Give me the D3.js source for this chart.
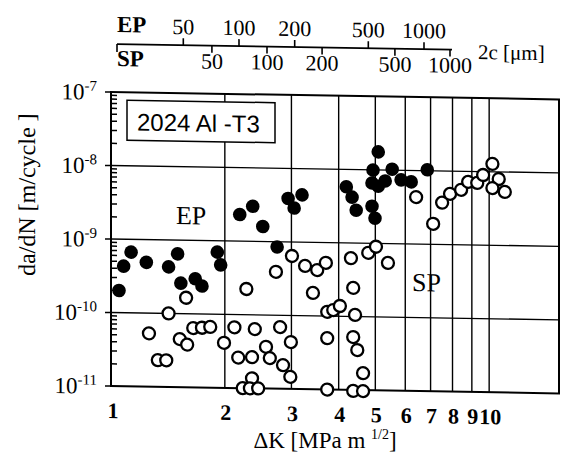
<!DOCTYPE html>
<html>
<head>
<meta charset="utf-8">
<script src="https://cdn.jsdelivr.net/npm/d3@7"></script>
<style>
  body { margin: 0; background: #fff; }
  svg text { font-family: "Liberation Serif", "Times New Roman", serif; fill: #000; }
</style>
</head>
<body>
<div id="chart"></div>
<script>
// EP specimens (filled circles): delta K [MPa m^1/2] and da/dN [m/cycle]
var epK = [1.05, 1.08, 1.13, 1.24, 1.42, 1.50, 1.53, 1.67, 1.74, 1.91, 1.95, 2.19, 2.37, 2.52, 2.75,
  2.94, 3.20, 3.05, 4.19, 4.34, 4.45, 4.90, 4.99, 5.09, 4.93, 4.90, 5.09, 5.31, 5.54, 5.85, 6.22, 6.86];
var epRate = [2.0e-10, 4.3e-10, 6.7e-10, 4.9e-10, 4.3e-10, 6.5e-10, 2.6e-10, 3.0e-10, 2.4e-10, 7.0e-10,
  4.7e-10, 2.3e-9, 3.0e-9, 1.6e-9, 8.5e-10, 3.9e-9, 4.4e-9, 2.9e-9, 5.8e-9, 4.2e-9, 2.8e-9, 3.2e-9,
  2.2e-9, 1.76e-8, 9.9e-9, 6.6e-9, 6.0e-9, 7.1e-9, 1.03e-8, 7.4e-9, 7.0e-9, 1.03e-8];

// SP specimens (open circles)
var spK = [1.26, 1.33, 1.40, 1.42, 1.52, 1.59, 1.58, 1.65, 1.74, 1.83, 1.99, 2.12, 2.17, 2.36, 2.36,
  2.23, 2.33, 2.45, 2.40, 2.57, 2.63, 2.80, 2.85, 2.98, 2.99, 2.28, 2.73, 3.01, 3.26, 3.51, 3.70,
  3.42, 4.31, 4.79, 5.02, 5.40, 4.37, 3.73, 3.87, 4.03, 4.42, 3.73, 4.37, 4.48, 4.64, 3.73, 4.37,
  4.64, 6.41, 7.11, 7.51, 7.88, 8.43, 8.80, 9.30, 9.64, 10.2, 10.6, 10.2, 11.0];
var spRate = [5.3e-11, 2.3e-11, 2.3e-11, 1.0e-10, 4.5e-11, 3.8e-11, 1.65e-10, 6.4e-11, 6.5e-11, 6.7e-11,
  4.1e-11, 6.7e-11, 2.6e-11, 2.65e-11, 1.37e-11, 1.0e-11, 1.0e-11, 1.0e-11, 6.4e-11, 3.7e-11, 2.6e-11,
  6.9e-11, 2.1e-11, 1.46e-11, 4.35e-11, 2.24e-10, 3.9e-10, 6.45e-10, 4.75e-10, 4.2e-10, 5.3e-10,
  2.05e-10, 6.2e-10, 7.4e-10, 9.0e-10, 5.45e-10, 2.45e-10, 1.14e-10, 1.21e-10, 1.38e-10, 1.05e-10,
  5.0e-11, 5.25e-11, 3.5e-11, 1.7e-11, 1.0e-11, 0.97e-11, 0.97e-11, 4.35e-9, 1.9e-9, 3.7e-9, 4.9e-9,
  5.6e-9, 7.2e-9, 7.0e-9, 9.0e-9, 1.28e-8, 8.0e-9, 6.0e-9, 5.35e-9];

// ticks
var xTicks = [1, 2, 3, 4, 5, 6, 7, 8, 9, 10];
var yExp = [-7, -8, -9, -10, -11];
var epSizes = [50, 100, 200, 500, 1000];
var spSizes = [50, 100, 200, 500, 1000];

var W = 563, H = 454;
var svg = d3.select("#chart").append("svg").attr("width", W).attr("height", H);

// the scan is slightly skewed
var k = 0.0165;
var g = svg.append("g").attr("transform", "matrix(1," + k + ",0,1,0," + (-k * 111) + ")");

var x = d3.scaleLog().domain([1, 15.3]).range([111, 559]);
var y = d3.scaleLog().domain([1e-11, 1e-7]).range([386, 92]);
var epScale = d3.scaleLog().domain([100, 1000]).range([239, 424]);
var spScale = d3.scaleLog().domain([100, 1000]).range([267, 450]);

// grid
g.append("g").selectAll("line").data(xTicks.slice(1)).enter().append("line")
  .attr("x1", function(d) { return x(d); }).attr("x2", function(d) { return x(d); })
  .attr("y1", y(1e-7)).attr("y2", y(1e-11))
  .attr("stroke", "#000").attr("stroke-width", 1.4);
g.append("g").selectAll("line").data(yExp.slice(1, 4)).enter().append("line")
  .attr("x1", x(1)).attr("x2", x.range()[1])
  .attr("y1", function(d) { return y(Math.pow(10, d)); }).attr("y2", function(d) { return y(Math.pow(10, d)); })
  .attr("stroke", "#000").attr("stroke-width", 1.4);

// minor ticks on left axis (inside), decade ticks outside
function mant(d) { return Math.round(d / Math.pow(10, Math.floor(Math.log10(d) + 1e-9))); }
g.append("g").selectAll("line").data(y.ticks()).enter().append("line")
  .attr("x1", function(d) { return mant(d) === 1 ? x(1) - 6 : x(1); })
  .attr("x2", function(d) { return mant(d) === 1 ? x(1) : x(1) + 6; })
  .attr("y1", function(d) { return y(d); }).attr("y2", function(d) { return y(d); })
  .attr("stroke", "#000").attr("stroke-width", 1.5);

// frame
g.append("rect").attr("x", x(1)).attr("y", y(1e-7))
  .attr("width", x.range()[1] - x(1)).attr("height", y(1e-11) - y(1e-7))
  .attr("fill", "none").attr("stroke", "#000").attr("stroke-width", 2);

// y labels
var yl = g.append("g").selectAll("text").data(yExp).enter().append("text")
  .attr("x", 97).attr("y", function(d) { return y(Math.pow(10, d)) + 8; })
  .attr("text-anchor", "end").style("font-size", "23px");
yl.append("tspan").text("10");
yl.append("tspan").attr("dy", -9).style("font-size", "15px").text(function(d) { return d; });

// x labels
g.append("g").selectAll("text").data(xTicks).enter().append("text")
  .attr("x", function(d) { return x(d) + (d === 1 ? 2 : 1); }).attr("y", 418)
  .attr("text-anchor", "middle").style("font-size", "22px").style("font-weight", "bold")
  .text(function(d) { return d; });

// axis titles (x title kept unskewed so it stays inside the page)
var xt = svg.append("text").attr("x", 325).attr("y", 448).attr("text-anchor", "middle").style("font-size", "23px");
xt.append("tspan").text("\u0394K [MPa m ");
xt.append("tspan").attr("dy", -9).style("font-size", "14px").text("1/2");
xt.append("tspan").attr("dy", 9).text("]");

g.append("text").attr("transform", "translate(35,196) rotate(-90)")
  .attr("text-anchor", "middle").style("font-size", "24px").text("da/dN [m/cycle ]");

// legend box
g.append("rect").attr("x", 127).attr("y", 100).attr("width", 148).attr("height", 40)
  .attr("fill", "#fff").attr("stroke", "#000").attr("stroke-width", 1.5);
g.append("text").attr("x", 137).attr("y", 130)
  .style("font-family", "'Liberation Sans', Arial, sans-serif").style("font-size", "24px")
  .text("2024 Al -T3");

// in-plot labels
g.append("text").attr("x", 176).attr("y", 223).style("font-size", "26px").text("EP");
g.append("text").attr("x", 412).attr("y", 286).style("font-size", "26px").text("SP");

// points
g.append("g").selectAll("circle").data(epK).enter().append("circle")
  .attr("cx", function(d) { return x(d); })
  .attr("cy", function(d, i) { return y(epRate[i]); })
  .attr("r", 6.8).attr("fill", "#000");
g.append("g").selectAll("circle").data(spK).enter().append("circle")
  .attr("cx", function(d) { return x(d); })
  .attr("cy", function(d, i) { return y(spRate[i]); })
  .attr("r", 6).attr("fill", "#fff").attr("stroke", "#000").attr("stroke-width", 2.3);

// top crack size axis
var topAxis = g.append("g");
var ay = 44;
topAxis.append("line").attr("x1", 117).attr("x2", 452).attr("y1", ay).attr("y2", ay)
  .attr("stroke", "#000").attr("stroke-width", 1.6);
topAxis.append("line").attr("x1", 117).attr("x2", 117).attr("y1", ay).attr("y2", ay + 8)
  .attr("stroke", "#000").attr("stroke-width", 1.6);
topAxis.selectAll(".ept").data(epSizes).enter().append("line").attr("class", "ept")
  .attr("x1", function(d) { return epScale(d); }).attr("x2", function(d) { return epScale(d); })
  .attr("y1", ay).attr("y2", ay - 7).attr("stroke", "#000").attr("stroke-width", 1.6);
topAxis.selectAll(".spt").data(spSizes).enter().append("line").attr("class", "spt")
  .attr("x1", function(d) { return spScale(d); }).attr("x2", function(d) { return spScale(d); })
  .attr("y1", ay).attr("y2", ay + 7).attr("stroke", "#000").attr("stroke-width", 1.6);
topAxis.selectAll(".epl").data(epSizes).enter().append("text").attr("class", "epl")
  .attr("x", function(d) { return epScale(d); }).attr("y", 33)
  .attr("text-anchor", "middle").style("font-size", "22px").text(function(d) { return d; });
topAxis.selectAll(".spl").data(spSizes).enter().append("text").attr("class", "spl")
  .attr("x", function(d) { return spScale(d); }).attr("y", 67)
  .attr("text-anchor", "middle").style("font-size", "22px").text(function(d) { return d; });
topAxis.append("text").attr("x", 117).attr("y", 32).style("font-size", "23px").style("font-weight", "bold").text("EP");
topAxis.append("text").attr("x", 117).attr("y", 66).style("font-size", "23px").style("font-weight", "bold").text("SP");
topAxis.append("text").attr("x", 478).attr("y", 53).style("font-size", "21px").text("2c [\u03bcm]");
</script>
</body>
</html>
